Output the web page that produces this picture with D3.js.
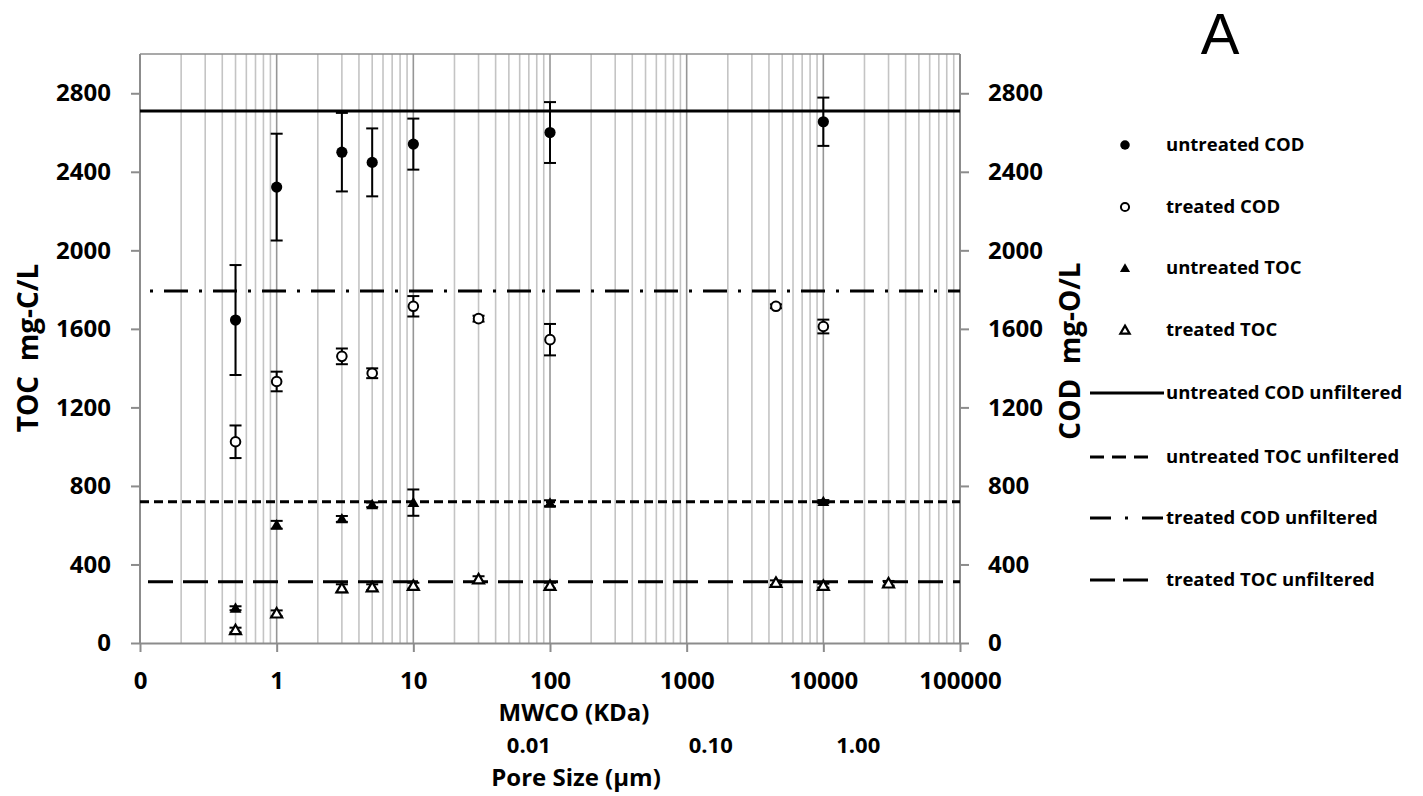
<!DOCTYPE html>
<html>
<head>
<meta charset="utf-8">
<script src="https://cdn.jsdelivr.net/npm/d3@7"></script>
<style>
  html, body { margin: 0; padding: 0; background: #fff; }
  svg { display: block; font-family: "Open Sans", sans-serif; }
</style>
</head>
<body>
<svg id="chart" width="1423" height="796"></svg>
<script>
// MWCO (KDa) positions of each measured series
const untreatedCODx = [0.5, 1, 3, 5, 10, 100, 10000];
const untreatedCOD = [1645, 2322, 2500, 2448, 2541, 2600, 2655];
const untreatedCODErr = [280, 272, 200, 173, 130, 155, 123];

const treatedCODx = [0.5, 1, 3, 5, 10, 30, 100, 4500, 10000];
const treatedCOD = [1025, 1332, 1460, 1374, 1715, 1652, 1545, 1715, 1612];
const treatedCODErr = [83, 50, 40, 25, 52, 15, 80, 10, 35];

const untreatedTOCx = [0.5, 1, 3, 5, 10, 100, 10000];
const untreatedTOC = [177, 602, 632, 704, 715, 712, 720];
const untreatedTOCErr = [10, 20, 15, 12, 67, 15, 8];

const treatedTOCx = [0.5, 1, 3, 5, 10, 30, 100, 4500, 10000, 30000];
const treatedTOC = [66, 151, 279, 284, 292, 325, 292, 307, 292, 304];
const treatedTOCErr = [12, 15, 20, 15, 15, 15, 15, 12, 10, 12];

// unfiltered reference levels
const unfilteredNames = ["untreated COD unfiltered", "untreated TOC unfiltered", "treated COD unfiltered", "treated TOC unfiltered"];
const unfilteredValues = [2710, 720, 1793, 312];

// axis ticks
const xTickValues = [0.1, 1, 10, 100, 1000, 10000, 100000];
const xTickLabels = ["0", "1", "10", "100", "1000", "10000", "100000"];
const yTickValues = [0, 400, 800, 1200, 1600, 2000, 2400, 2800];
const poreSizeAt = [70, 1500, 18000];
const poreSizeLabels = ["0.01", "0.10", "1.00"];

const svg = d3.select("#chart");
const L = 140, R = 960, T = 54, B = 643;
const x = d3.scaleLog().domain([0.1, 100000]).range([L, R]);
const y = d3.scaleLinear().domain([0, 3000]).range([B, T]);

// vertical log grid
const grid = svg.append("g");
x.ticks().forEach(v => {
  const major = Math.abs(Math.log10(v) - Math.round(Math.log10(v))) < 1e-9;
  grid.append("line")
    .attr("x1", x(v)).attr("x2", x(v)).attr("y1", T).attr("y2", B)
    .attr("stroke", major ? "#969696" : "#c4c4c4")
    .attr("stroke-width", 1.6);
});
// plot frame top
svg.append("line").attr("x1", L).attr("x2", R).attr("y1", T).attr("y2", T)
  .attr("stroke", "#8c8c8c").attr("stroke-width", 1.6);

const tickFont = g => g.selectAll("text")
  .attr("font-family", "Open Sans").attr("font-weight", 700)
  .attr("font-size", 24).attr("fill", "#000");
const axisStyle = g => {
  g.select(".domain").attr("stroke", "#8c8c8c").attr("stroke-width", 2);
  g.selectAll(".tick line").attr("stroke", "#8c8c8c").attr("stroke-width", 2);
};

// bottom axis
svg.append("g").attr("transform", `translate(0,${B})`)
  .call(d3.axisBottom(x).tickValues(xTickValues)
    .tickFormat((d, i) => xTickLabels[i]).tickSize(9).tickSizeOuter(0).tickPadding(20))
  .call(axisStyle).call(tickFont);

// left axis (TOC)
svg.append("g").attr("transform", `translate(${L},0)`)
  .call(d3.axisLeft(y).tickValues(yTickValues).tickFormat(d3.format("d"))
    .tickSize(9).tickSizeOuter(0).tickPadding(20))
  .call(axisStyle).call(tickFont)
  .call(g => g.select(".domain").attr("d", `M0,${B}V${T}`));

// right axis (COD)
svg.append("g").attr("transform", `translate(${R},0)`)
  .call(d3.axisRight(y).tickValues(yTickValues).tickFormat(d3.format("d"))
    .tickSize(9).tickSizeOuter(0).tickPadding(19))
  .call(axisStyle).call(tickFont)
  .call(g => g.select(".domain").attr("d", `M0,${B}V${T}`));

// axis titles
svg.append("text").attr("transform", `translate(38,348) rotate(-90)`)
  .attr("text-anchor", "middle").attr("font-weight", 700).attr("font-size", 28)
  .text("TOC\u00A0 mg-C/L");
svg.append("text").attr("transform", `translate(1080,351) rotate(-90)`)
  .attr("text-anchor", "middle").attr("font-weight", 700).attr("font-size", 28)
  .text("COD\u00A0 mg-O/L");
svg.append("text").attr("x", 574).attr("y", 721)
  .attr("text-anchor", "middle").attr("font-weight", 700).attr("font-size", 24)
  .text("MWCO (KDa)");
poreSizeAt.forEach((v, i) => {
  svg.append("text").attr("x", x(v)).attr("y", 753)
    .attr("text-anchor", "middle").attr("font-weight", 700).attr("font-size", 22)
    .text(poreSizeLabels[i]);
});
svg.append("text").attr("x", 576).attr("y", 786)
  .attr("text-anchor", "middle").attr("font-weight", 700).attr("font-size", 24)
  .text("Pore Size (\u00B5m)");

// panel letter
svg.append("text").attr("x", 1220).attr("y", 54).attr("text-anchor", "middle")
  .attr("font-family", "Liberation Sans").attr("font-size", 58).attr("font-weight", 400).text("A");

// unfiltered level line styles
const lineStyles = [
  { dash: null, offset: 0 },
  { dash: "9,5", offset: 0 },
  { dash: "24,11,3,11", offset: 25 },
  { dash: "25,10", offset: 27 }
];
unfilteredValues.forEach((v, i) => {
  svg.append("line")
    .attr("x1", L).attr("x2", R).attr("y1", y(v)).attr("y2", y(v))
    .attr("stroke", "#000").attr("stroke-width", 3)
    .attr("stroke-dasharray", lineStyles[i].dash)
    .attr("stroke-dashoffset", lineStyles[i].offset);
});

// error bars and markers
const series = [
  { xs: untreatedCODx, ys: untreatedCOD, err: untreatedCODErr, shape: "circle", fill: true },
  { xs: treatedCODx, ys: treatedCOD, err: treatedCODErr, shape: "circle", fill: false },
  { xs: untreatedTOCx, ys: untreatedTOC, err: untreatedTOCErr, shape: "triangle", fill: true },
  { xs: treatedTOCx, ys: treatedTOC, err: treatedTOCErr, shape: "triangle", fill: false }
];
function drawMarker(g, s, cx, cy, scale) {
  if (s.shape === "circle") {
    g.append("circle").attr("cx", cx).attr("cy", cy)
      .attr("r", (s.fill ? 5.6 : 4.8) * scale)
      .attr("fill", s.fill ? "#000" : "#fff")
      .attr("stroke", "#000").attr("stroke-width", s.fill ? 0 : 2);
  } else {
    g.append("path").attr("d", d3.symbol().type(d3.symbolTriangle).size((s.fill ? 62 : 52) * scale * scale)())
      .attr("transform", `translate(${cx},${cy + 1})`)
      .attr("fill", s.fill ? "#000" : "#fff")
      .attr("stroke", "#000").attr("stroke-width", s.fill ? 0 : 2.2);
  }
}
const marks = svg.append("g");
series.forEach(s => {
  s.xs.forEach((xv, i) => {
    const cx = x(xv), y0 = y(s.ys[i] - s.err[i]), y1 = y(s.ys[i] + s.err[i]);
    marks.append("line").attr("x1", cx).attr("x2", cx).attr("y1", y0).attr("y2", y1)
      .attr("stroke", "#000").attr("stroke-width", 2);
    [y0, y1].forEach(yy => marks.append("line")
      .attr("x1", cx - 6).attr("x2", cx + 6).attr("y1", yy).attr("y2", yy)
      .attr("stroke", "#000").attr("stroke-width", 2));
  });
});
series.forEach(s => {
  s.xs.forEach((xv, i) => drawMarker(marks, s, x(xv), y(s.ys[i]), 1));
});

// legend
const legendNames = ["untreated COD", "treated COD", "untreated TOC", "treated TOC"];
const legend = svg.append("g");
const rowY = [145, 207, 268, 330, 393, 457, 518, 580];
series.forEach((s, i) => {
  drawMarker(legend, s, 1125, rowY[i], 0.85);
  legend.append("text").attr("x", 1166).attr("y", rowY[i]).attr("dy", "0.35em")
    .attr("font-weight", 700).attr("font-size", 18.5).text(legendNames[i]);
});
const sampleEnds = [1164, 1148, 1164, 1148];
const sampleDash = [null, "14,8", "21,14,3,14", "25,8"];
unfilteredNames.forEach((n, i) => {
  const yy = rowY[4 + i];
  legend.append("line").attr("x1", 1090).attr("x2", sampleEnds[i]).attr("y1", yy).attr("y2", yy)
    .attr("stroke", "#000").attr("stroke-width", 3)
    .attr("stroke-dasharray", sampleDash[i]);
  legend.append("text").attr("x", 1166).attr("y", yy).attr("dy", "0.35em")
    .attr("font-weight", 700).attr("font-size", 18.5).text(n);
});
</script>
</body>
</html>
